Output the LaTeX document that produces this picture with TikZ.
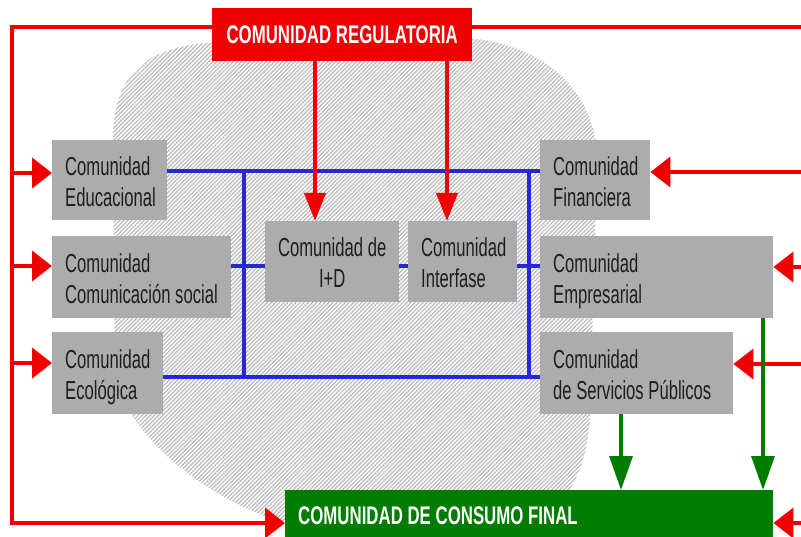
\documentclass[tikz,border=0pt]{standalone}
\usepackage{fontspec}
\newfontfamily\bxfont[FakeStretch=0.64]{Liberation Sans}
\newfontfamily\ttlfont[FakeStretch=0.66]{Liberation Sans}
\usetikzlibrary{arrows.meta,patterns.meta}
\definecolor{rred}{RGB}{240,0,0}
\definecolor{bblue}{RGB}{40,40,210}
\definecolor{ggreen}{RGB}{0,125,0}
\definecolor{boxgray}{RGB}{172,172,172}
\definecolor{txt}{RGB}{30,30,30}
\tikzset{
 gbox/.style={fill=boxgray, anchor=north west, inner xsep=13pt, inner ysep=0pt, align=flush left, text=txt,
   font=\bxfont\fontsize{26}{31}\selectfont, text height=20pt, text depth=30pt},
 ttl/.style={anchor=north west, text=white, font=\ttlfont\bfseries\fontsize{25.5}{30}\selectfont,
   text height=18pt, text depth=0pt, inner ysep=0pt},
 redline/.style={draw=rred, line width=4pt, line join=miter},
 redarr/.style={redline, -{Triangle[length=20pt,width=30pt]}},
 redarrv/.style={redline, -{Triangle[length=28pt,width=21pt]}},
 blueline/.style={draw=bblue, line width=4pt},
 greenarr/.style={draw=ggreen, line width=3.5pt, -{Triangle[length=34pt,width=23pt]}},
}
\begin{document}
\begin{tikzpicture}[x=1pt,y=-1pt]
\useasboundingbox (0,0) rectangle (801,537);
\clip (0,0) rectangle (801,537);
\fill[white] (0,0) rectangle (801,537);
% hatched blob
\fill[pattern={Lines[angle=45,distance=2.9pt,line width=1.2pt]}, pattern color=gray!55]
  (113,140) .. controls (113,70) and (150,45) .. (220,42) -- (460,38)
  .. controls (540,40) and (597,90) .. (597,160) -- (590,420)
  .. controls (585,480) and (560,525) .. (500,528) -- (300,525)
  .. controls (250,520) and (140,460) .. (115,380) -- cycle;
% boxes
\node[gbox, minimum height=80pt, text width=89pt] (edu) at (52,140) {\mbox{Comunidad}\\\mbox{Educacional}};
\node[gbox, minimum height=82pt, text width=153pt] (com) at (52,236) {\mbox{Comunidad}\\\mbox{Comunicación social}};
\node[gbox, minimum height=82pt, text width=85pt] (eco) at (52,332) {\mbox{Comunidad}\\\mbox{Ecológica}};
\node[gbox, minimum height=81pt, inner xsep=6pt, text width=122pt, align=flush center] (id) at (265,221) {\mbox{Comunidad de}\\\mbox{I+D}};
\node[gbox, minimum height=81pt, text width=83pt] (int) at (408,221) {\mbox{Comunidad}\\\mbox{Interfase}};
\node[gbox, minimum height=80pt, text width=84pt] (fin) at (540,140) {\mbox{Comunidad}\\\mbox{Financiera}};
\node[gbox, minimum height=82pt, text width=207pt] (emp) at (540,236) {\mbox{Comunidad}\\\mbox{Empresarial}};
\node[gbox, minimum height=82pt, text width=167pt] (ser) at (540,332) {\mbox{Comunidad}\\\mbox{de Servicios Públicos}};
\node[ttl, fill=rred, minimum width=260pt, minimum height=53pt, inner xsep=0pt] (reg) at (212,8) {COMUNIDAD REGULATORIA};
\node[ttl, fill=ggreen, minimum height=50pt, text width=462pt, align=flush left, inner xsep=13pt] (cons) at (285,490) {\mbox{COMUNIDAD DE CONSUMO FINAL}};
% coordinates
\coordinate (TL) at (12,27);
\coordinate (BL) at (12,523);
\coordinate (TR) at (801,27);
\coordinate (L1) at (12,173);
\coordinate (L2) at (12,266);
\coordinate (L3) at (12,363);
\coordinate (R1) at (801,172);
\coordinate (R2) at (801,267);
\coordinate (R3) at (801,364);
\coordinate (R4) at (801,523);
\coordinate (x1) at (315,0);
\coordinate (x2) at (447,0);
\coordinate (bt) at (0,171);
\coordinate (bm) at (0,266);
\coordinate (bb) at (0,377);
\coordinate (vl) at (244,0);
\coordinate (vr) at (529,0);
\coordinate (g1) at (621,0);
\coordinate (g2) at (763,0);
% blue connectors
\draw[blueline] (edu.east |- bt) -- (fin.west |- bt);
\draw[blueline] (eco.east |- bb) -- (ser.west |- bb);
\draw[blueline] (vl |- bt) -- (vl |- bb);
\draw[blueline] (vr |- bt) -- (vr |- bb);
\draw[blueline] (com.east |- bm) -- (id.west |- bm);
\draw[blueline] (id.east |- bm) -- (int.west |- bm);
\draw[blueline] (int.east |- bm) -- (emp.west |- bm);
% red connectors
\draw[redarr] (reg.west |- TL) -- (TL) -- (BL) -- (cons.west |- BL);
\draw[redline] (reg.east |- TR) -- (TR);
\draw[redarr] (L1) -- (edu.west |- L1);
\draw[redarr] (L2) -- (com.west |- L2);
\draw[redarr] (L3) -- (eco.west |- L3);
\draw[redarr] (R1) -- (fin.east |- R1);
\draw[redarr] (R2) -- (emp.east |- R2);
\draw[redarr] (R3) -- (ser.east |- R3);
\draw[redarr] (R4) -- (cons.east |- R4);
\draw[redarrv] (reg.south -| x1) -- (id.north -| x1);
\draw[redarrv] (reg.south -| x2) -- (int.north -| x2);
% green connectors
\draw[greenarr] (ser.south -| g1) -- (cons.north -| g1);
\draw[greenarr] (emp.south -| g2) -- (cons.north -| g2);
\end{tikzpicture}
\end{document}
